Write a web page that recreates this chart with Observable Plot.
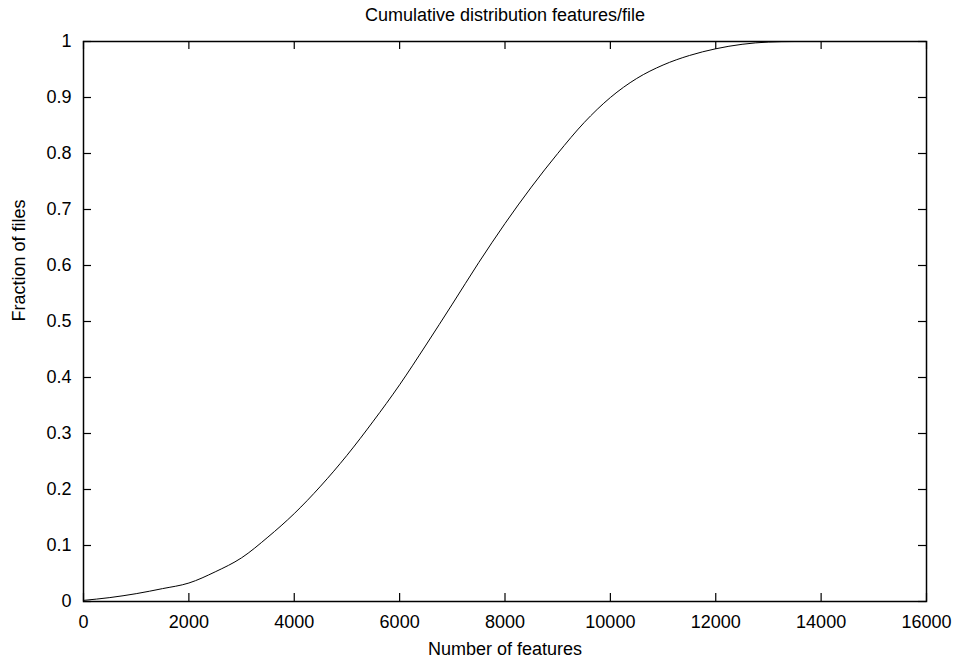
<!DOCTYPE html>
<html><head><meta charset="utf-8">
<script src="https://cdn.jsdelivr.net/npm/d3@7"></script>
<script src="https://cdn.jsdelivr.net/npm/@observablehq/plot@0.6"></script>
<style>body{margin:0;background:#fff} svg{display:block}</style>
</head><body><div id="chart"></div>
<script>
const title = "Cumulative distribution features/file";
const xLabel = "Number of features";
const yLabel = "Fraction of files";
const features = [0, 500, 1000, 1500, 2000, 2500, 3000, 3500, 4000, 4500, 5000, 5500, 6000, 6500, 7000, 7500, 8000, 8500, 9000, 9500, 10000, 10500, 11000, 11500, 12000, 12500, 13000, 13500, 14000];
const fraction = [0.002, 0.007, 0.014, 0.023, 0.033, 0.053, 0.078, 0.115, 0.157, 0.206, 0.261, 0.322, 0.387, 0.458, 0.531, 0.605, 0.675, 0.740, 0.800, 0.855, 0.900, 0.934, 0.958, 0.975, 0.987, 0.995, 0.999, 1.0, 1.0];
const xTicks = [0, 2000, 4000, 6000, 8000, 10000, 12000, 14000, 16000];
const yTicks = [0, 0.1, 0.2, 0.3, 0.4, 0.5, 0.6, 0.7, 0.8, 0.9, 1];

const data = features.map((x, i) => ({x, y: fraction[i]}));
const W = 955, H = 660, mL = 83, mR = 29, mT = 41, mB = 59;
const fw = W - mL - mR, fh = H - mT - mB, T = 8;
const font = "'Liberation Sans', Arial, Helvetica, sans-serif";

const chart = Plot.plot({
  width: W, height: H,
  marginLeft: mL, marginRight: mR, marginTop: mT, marginBottom: mB,
  style: {fontFamily: font, fontSize: "18px", color: "#000", background: "#fff"},
  x: {domain: [0, 16000]},
  y: {domain: [0, 1]},
  marks: [
    Plot.axisX(xTicks, {tickSize: 0, tickPadding: 13.5, tickFormat: d => String(d), label: null, fontSize: 18}),
    Plot.axisY(yTicks, {tickSize: 0, tickPadding: 12, tickFormat: d => String(d), label: null, fontSize: 18}),
    Plot.tickX(xTicks, {x: d => d, insetTop: fh - T, stroke: "#000", strokeWidth: 1.2}),
    Plot.tickX(xTicks, {x: d => d, insetBottom: fh - T, stroke: "#000", strokeWidth: 1.2}),
    Plot.tickY(yTicks, {y: d => d, insetRight: fw - T, stroke: "#000", strokeWidth: 1.2}),
    Plot.tickY(yTicks, {y: d => d, insetLeft: fw - T, stroke: "#000", strokeWidth: 1.2}),
    Plot.line(data, {x: "x", y: "y", stroke: "#000", strokeWidth: 1, curve: "monotone-x"}),
    Plot.frame({stroke: "#000", strokeWidth: 1.5}),
    Plot.text([title], {frameAnchor: "top", dy: -26, fontSize: 18, lineAnchor: "middle"}),
    Plot.text([xLabel], {frameAnchor: "bottom", dy: 47.5, fontSize: 18, lineAnchor: "middle"}),
    Plot.text([yLabel], {frameAnchor: "left", dx: -64, rotate: -90, fontSize: 18, lineAnchor: "middle"})
  ]
});
document.getElementById("chart").append(chart);
</script>
</body></html>
